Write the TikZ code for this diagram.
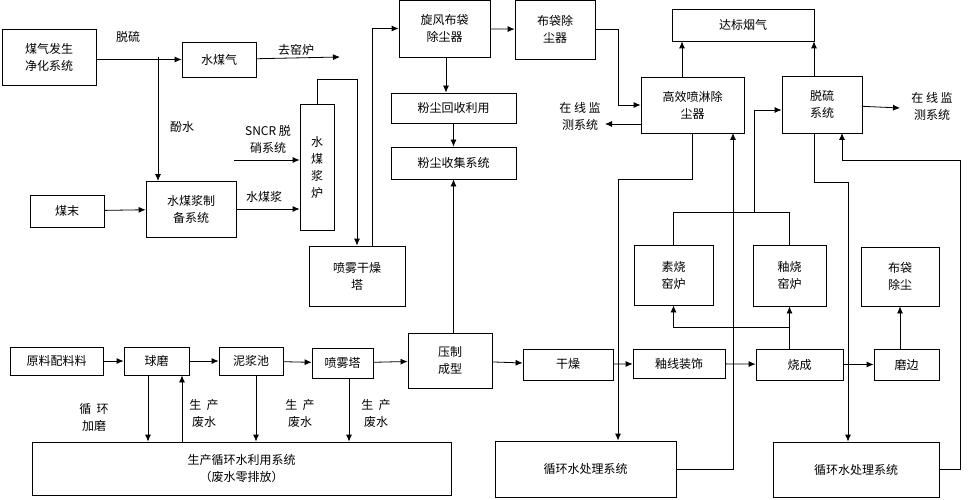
\documentclass[tikz,border=0pt]{standalone}
\usepackage{fontspec}
\newfontfamily\cjk{Noto Sans CJK SC}
\usetikzlibrary{arrows.meta}

\tikzset{
  box/.style={draw, thick, align=center, inner sep=0pt, font=\cjk\fontsize{12}{17}\selectfont},
  lbl/.style={align=center, inner sep=1pt, font=\cjk\fontsize{12}{17}\selectfont},
  flow/.style={thick, -{Latex[length=7pt,width=6pt]}},
  wire/.style={thick}
}

\begin{document}
\begin{tikzpicture}[x=1pt, y=-1pt]
  \useasboundingbox (0,0) rectangle (974,500);
  % upper part: coal gas and slurry
  \node[box, minimum width=94, minimum height=56] (gas) at (49,57) {煤气发生\\净化系统};
  \node[box, minimum width=74, minimum height=35] (wgas) at (219,59.5) {水煤气};
  \node[box, minimum width=74, minimum height=32] (dust) at (67,211) {煤末};
  \node[box, minimum width=90, minimum height=56] (prep) at (191,209) {水煤浆制\\备系统};
  \node[box, minimum width=34, minimum height=126, text width=14] (furn) at (317,167) {水\\煤\\浆\\炉};
  \node[box, minimum width=96, minimum height=60] (spray) at (357,276) {喷雾干燥\\塔};
  \node[box, minimum width=91, minimum height=57] (cyc) at (444.5,28.5) {旋风布袋\\除尘器};
  \node[box, minimum width=125, minimum height=30] (rec) at (453.5,108) {粉尘回收利用};
  \node[box, minimum width=125, minimum height=32] (col) at (453.5,163) {粉尘收集系统};
  \node[box, minimum width=80, minimum height=59] (bag) at (555,29.5) {布袋除\\尘器};
  % flue gas
  \node[box, minimum width=142, minimum height=32] (flue) at (743,25) {达标烟气};
  \node[box, minimum width=103, minimum height=56] (wash) at (692.5,105) {高效喷淋除\\尘器};
  \node[box, minimum width=80, minimum height=57] (desu) at (822,104.5) {脱硫\\系统};
  \node[box, minimum width=79, minimum height=60] (bisq) at (673.5,275) {素烧\\窑炉};
  \node[box, minimum width=73, minimum height=61] (glost) at (789.5,275.5) {釉烧\\窑炉};
  \node[box, minimum width=78, minimum height=59] (bag2) at (900,276.5) {布袋\\除尘};
  % production line
  \node[box, minimum width=93, minimum height=28] (raw) at (56.5,361) {原料配料料};
  \node[box, minimum width=65, minimum height=28] (mill) at (156.5,361) {球磨};
  \node[box, minimum width=64, minimum height=28] (pool) at (251,361) {泥浆池};
  \node[box, minimum width=61, minimum height=30] (stow) at (342.5,363) {喷雾塔};
  \node[box, minimum width=84, minimum height=55] (press) at (450,360.5) {压制\\成型};
  \node[box, minimum width=90, minimum height=31] (dry) at (568,364.5) {干燥};
  \node[box, minimum width=92, minimum height=29] (glaze) at (679,363.5) {釉线装饰};
  \node[box, minimum width=87, minimum height=31] (fire) at (799.5,364.5) {烧成};
  \node[box, minimum width=65, minimum height=31] (edge) at (906.5,364.5) {磨边};
  % water systems
  \node[box, minimum width=419, minimum height=53] (pool2) at (241.5,468.5) {生产循环水利用系统\\（废水零排放）};
  \node[box, minimum width=181, minimum height=56] (wt1) at (585.5,469) {循环水处理系统};
  \node[box, minimum width=166, minimum height=55] (wt2) at (856,469.5) {循环水处理系统};
  % free ends
  \coordinate (kiln) at (340,57);
  \coordinate (sncr) at (234,160);
  \coordinate (mon1) at (605,124);
  \coordinate (mon2) at (900,108);
  \node[lbl] at (128,37) {脱硫};
  \node[lbl] at (182,127) {酚水};
  \node[lbl] at (296,50) {去窑炉};
  \node[lbl] at (268,139) {SNCR\ 脱\\硝系统};
  \node[lbl] at (264,197) {水煤浆};
  \node[lbl] at (580,116) {在\ 线\ 监\\测系统};
  \node[lbl] at (932,106) {在\ 线\ 监\\测系统};
  \node[lbl] at (94,417) {循\ \ 环\\加磨};
  \node[lbl] at (204,413) {生\ \ 产\\废水};
  \node[lbl] at (300,413) {生\ \ 产\\废水};
  \node[lbl] at (376,413) {生\ \ 产\\废水};

  \draw[flow] (gas.east |- wgas) -- (wgas);
  \draw[flow] (158,57) -- (158,181);
  \draw[flow] (wgas) -- (kiln);
  \draw[flow] (dust) -- (prep);
  \draw[flow] (prep.east |- 0,209) -- (furn.west |- 0,209);
  \draw[flow] (sncr) -- (furn.west |- sncr);
  \draw[flow] (furn.north) |- (357,79) -- (spray.north -| 357,0);
  \draw[flow] (spray.north -| 372,0) |- (cyc.west);
  \draw[flow] (cyc.south -| 446,0) -- (rec.north -| 446,0);
  \draw[flow] (rec) -- (col);
  \draw[flow] (press.north -| col) -- (col.south);
  \draw[flow] (cyc) -- (bag);
  \draw[flow] (bag.east) -| (618,105) -- (wash.west |- 0,105);
  \draw[flow] (wash.west |- mon1) -- (mon1);
  \draw[flow] (wash.north -| 682,0) -- (flue.south -| 682,0);
  \draw[flow] (desu.north -| 814,0) -- (flue.south -| 814,0);
  \draw[flow] (desu) -- (mon2);
  \draw[flow] (wash.south) |- (618,179) -- (wt1.north -| 618,0);
  \draw[flow] (wt1.east) -| (733,133);
  \draw[wire] (bisq.north) |- (glost.north |- 0,212) -- (glost.north);
  \draw[flow] (754,212) |- (desu.west |- 0,110);
  \draw[flow] (desu.south -| 814,0) |- (848,182) -- (wt2.north -| 848,0);
  \draw[flow] (wt2.east) -| (960,160) -| (842,133);
  \draw[flow] (fire.north -| glost) |- (bisq.south |- 0,327) -- (bisq.south);
  \draw[flow] (fire.north -| glost) -- (glost.south);
  \draw[flow] (edge.north -| bag2) -- (bag2.south);
  \foreach \a/\b in {raw/mill, mill/pool, pool/stow, stow/press, press/dry, dry/glaze, glaze/fire, fire/edge}
    \draw[flow] (\a) -- (\b);
  \draw[flow] (mill.south -| 148,0) -- (pool2.north -| 148,0);
  \draw[flow] (pool2.north -| 182,0) -- (mill.south -| 182,0);
  \draw[flow] (pool.south -| 256,0) -- (pool2.north -| 256,0);
  \draw[flow] (stow.south -| 349,0) -- (pool2.north -| 349,0);
\end{tikzpicture}
\end{document}
